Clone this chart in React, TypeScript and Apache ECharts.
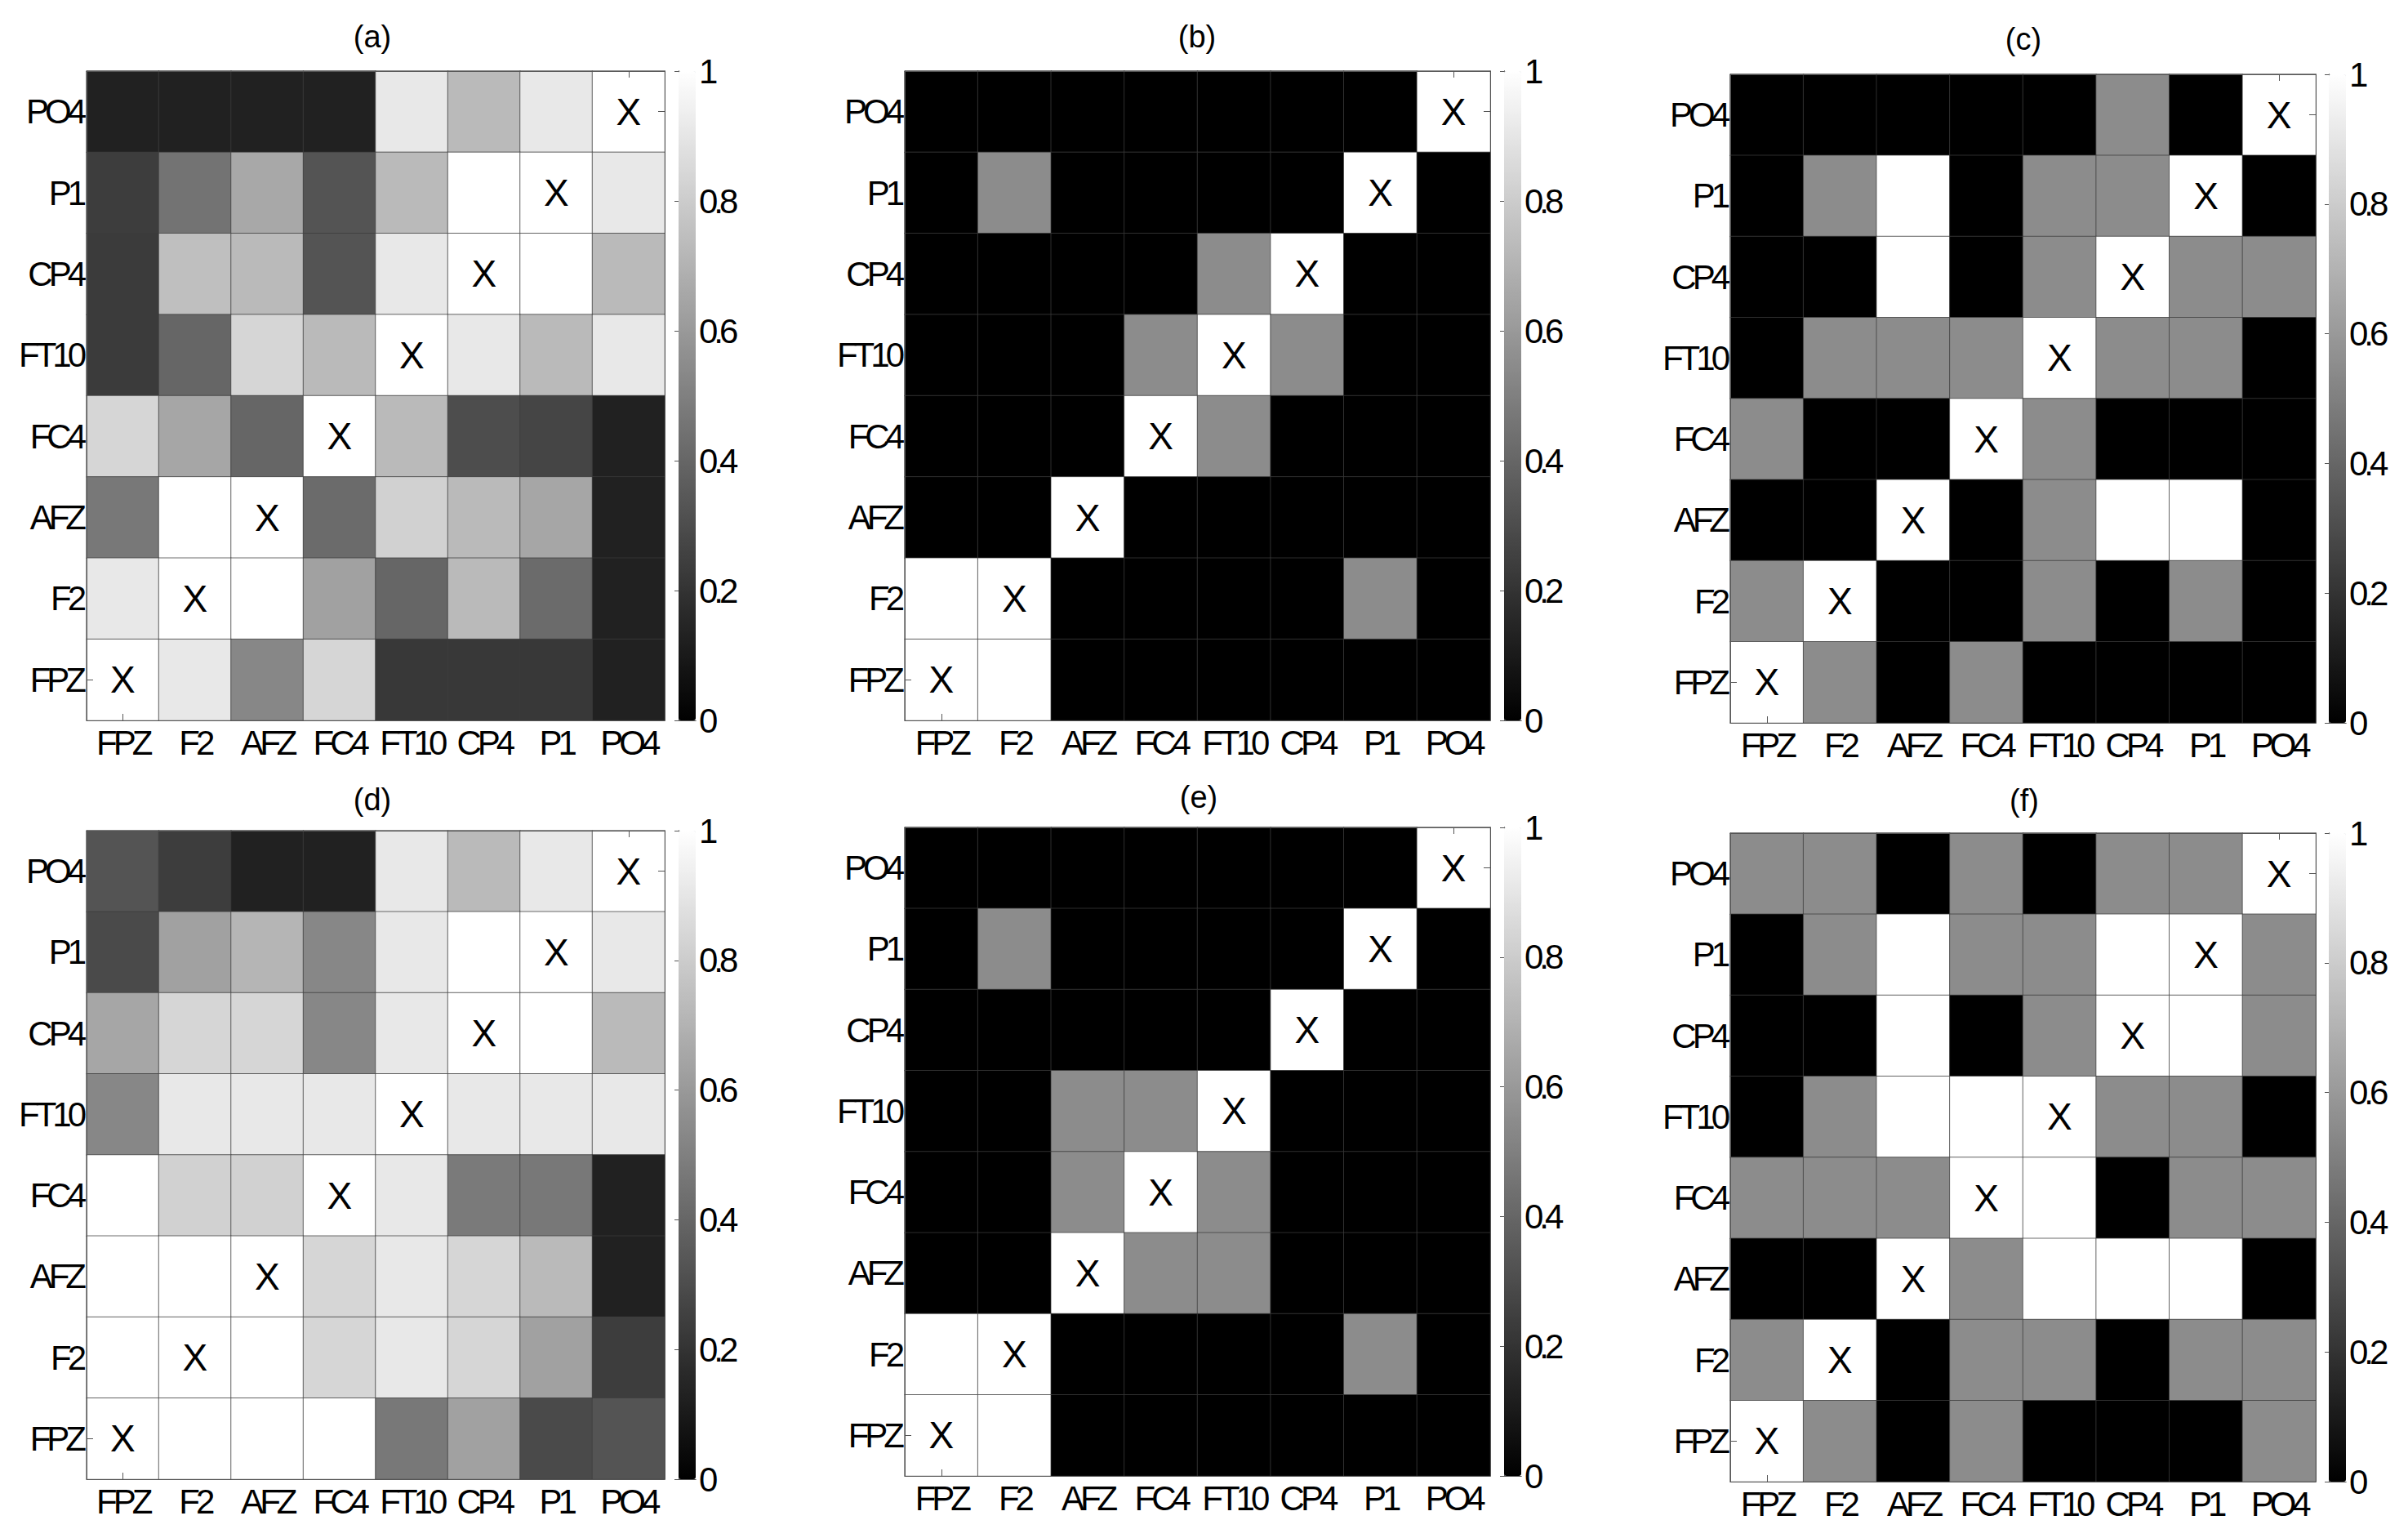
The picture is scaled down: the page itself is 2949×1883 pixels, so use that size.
import React, { useEffect, useRef } from "react";
import * as echarts from "echarts";

// Channel names (x: left→right, y: bottom→top)
const channels = ["FPZ", "F2", "AFZ", "FC4", "FT10", "CP4", "P1", "PO4"];
const panelTitles = ["(a)", "(b)", "(c)", "(d)", "(e)", "(f)"];

// Each matrix: rows listed top (PO4) to bottom (FPZ); columns FPZ..PO4
const panelA = [
  [0.13, 0.13, 0.13, 0.13, 0.91, 0.73, 0.91, 1],
  [0.24, 0.45, 0.66, 0.33, 0.73, 1, 1, 0.91],
  [0.23, 0.75, 0.73, 0.33, 0.91, 1, 1, 0.73],
  [0.23, 0.4, 0.84, 0.73, 1, 0.91, 0.73, 0.91],
  [0.84, 0.65, 0.4, 1, 0.73, 0.3, 0.27, 0.13],
  [0.47, 1, 1, 0.42, 0.82, 0.73, 0.65, 0.13],
  [0.91, 1, 1, 0.63, 0.4, 0.73, 0.42, 0.13],
  [1, 0.91, 0.53, 0.84, 0.22, 0.22, 0.22, 0.13],
];
const panelB = [
  [0, 0, 0, 0, 0, 0, 0, 1],
  [0, 0.55, 0, 0, 0, 0, 1, 0],
  [0, 0, 0, 0, 0.55, 1, 0, 0],
  [0, 0, 0, 0.55, 1, 0.55, 0, 0],
  [0, 0, 0, 1, 0.55, 0, 0, 0],
  [0, 0, 1, 0, 0, 0, 0, 0],
  [1, 1, 0, 0, 0, 0, 0.55, 0],
  [1, 1, 0, 0, 0, 0, 0, 0],
];
const panelC = [
  [0, 0, 0, 0, 0, 0.55, 0, 1],
  [0, 0.55, 1, 0, 0.55, 0.55, 1, 0],
  [0, 0, 1, 0, 0.55, 1, 0.55, 0.55],
  [0, 0.55, 0.55, 0.55, 1, 0.55, 0.55, 0],
  [0.55, 0, 0, 1, 0.55, 0, 0, 0],
  [0, 0, 1, 0, 0.55, 1, 1, 0],
  [0.55, 1, 0, 0, 0.55, 0, 0.55, 0],
  [1, 0.55, 0, 0.55, 0, 0, 0, 0],
];
const panelD = [
  [0.33, 0.24, 0.13, 0.13, 0.91, 0.73, 0.91, 1],
  [0.29, 0.63, 0.71, 0.53, 0.91, 1, 1, 0.91],
  [0.65, 0.84, 0.84, 0.53, 0.91, 1, 1, 0.73],
  [0.53, 0.91, 0.91, 0.91, 1, 0.91, 0.91, 0.91],
  [1, 0.82, 0.82, 1, 0.91, 0.48, 0.47, 0.13],
  [1, 1, 1, 0.84, 0.91, 0.84, 0.73, 0.13],
  [1, 1, 1, 0.84, 0.91, 0.84, 0.63, 0.24],
  [1, 1, 1, 1, 0.47, 0.63, 0.29, 0.33],
];
const panelE = [
  [0, 0, 0, 0, 0, 0, 0, 1],
  [0, 0.55, 0, 0, 0, 0, 1, 0],
  [0, 0, 0, 0, 0, 1, 0, 0],
  [0, 0, 0.55, 0.55, 1, 0, 0, 0],
  [0, 0, 0.55, 1, 0.55, 0, 0, 0],
  [0, 0, 1, 0.55, 0.55, 0, 0, 0],
  [1, 1, 0, 0, 0, 0, 0.55, 0],
  [1, 1, 0, 0, 0, 0, 0, 0],
];
const panelF = [
  [0.55, 0.55, 0, 0.55, 0, 0.55, 0.55, 1],
  [0, 0.55, 1, 0.55, 0.55, 1, 1, 0.55],
  [0, 0, 1, 0, 0.55, 1, 1, 0.55],
  [0, 0.55, 1, 1, 1, 0.55, 0.55, 0],
  [0.55, 0.55, 0.55, 1, 1, 0, 0.55, 0.55],
  [0, 0, 1, 0.55, 1, 1, 1, 0],
  [0.55, 1, 0, 0.55, 0.55, 0, 0.55, 0.55],
  [1, 0.55, 0, 0.55, 0, 0, 0, 0.55],
];
const panels = [panelA, panelB, panelC, panelD, panelE, panelF];

// colour-bar scale
const cbMin = 0;
const cbMax = 1;
const cbInterval = 0.2;

// Layout (pixels)
const layout = [
  { left: 97, top: 87, width: 717, height: 795, cbLeft: 831, tx: 456, ty: 45 },
  { left: 1108, top: 87, width: 717, height: 795, cbLeft: 1842, tx: 1466, ty: 45 },
  { left: 2119, top: 91, width: 717, height: 794, cbLeft: 2852, tx: 2478, ty: 48 },
  { left: 97, top: 1017, width: 717, height: 794, cbLeft: 831, tx: 456, ty: 979 },
  { left: 1108, top: 1013, width: 717, height: 794, cbLeft: 1842, tx: 1468, ty: 976 },
  { left: 2119, top: 1020, width: 717, height: 794, cbLeft: 2852, tx: 2479, ty: 980 },
];
const CB_W = 21;
// "Narrow" in the family name is used as a CSS hook for tight MATLAB-like spacing
const FONT = "'Liberation Sans Narrow', 'Liberation Sans', Arial, sans-serif";
const PLAIN_FONT = "'Liberation Sans', Arial, sans-serif";
const LABEL_SIZE = 42;
const LINE = "#555";

function buildOption() {
  const grid: any[] = [];
  const xAxis: any[] = [];
  const yAxis: any[] = [];
  const series: any[] = [];
  const visualMap: any[] = [];
  const graphic: any[] = [];
  const n = channels.length;

  panels.forEach((m, p) => {
    const L = layout[p];
    const gHeat = grid.length;
    grid.push({ left: L.left, top: L.top, width: L.width, height: L.height, containLabel: false });
    const gCb = grid.length;
    grid.push({ left: L.cbLeft, top: L.top, width: CB_W, height: L.height, containLabel: false });

    const xb = xAxis.length;
    xAxis.push({
      gridIndex: gHeat,
      type: "category",
      data: channels,
      position: "bottom",
      axisLine: { show: true, lineStyle: { color: LINE, width: 1 } },
      axisTick: {
        show: true,
        inside: true,
        alignWithLabel: true,
        length: 8,
        interval: (i: number) => i === 0,
        lineStyle: { color: LINE },
      },
      axisLabel: { interval: 0, margin: 6, color: "#000", fontSize: LABEL_SIZE, fontFamily: FONT },
      splitLine: { show: false },
      z: 5,
    });
    xAxis.push({
      gridIndex: gHeat,
      type: "category",
      data: channels,
      position: "top",
      axisLine: { show: true, lineStyle: { color: LINE, width: 1 } },
      axisTick: {
        show: true,
        inside: true,
        alignWithLabel: true,
        length: 8,
        interval: (i: number) => i === n - 1,
        lineStyle: { color: LINE },
      },
      axisLabel: { show: false },
      splitLine: { show: false },
      z: 5,
    });
    const yl = yAxis.length;
    yAxis.push({
      gridIndex: gHeat,
      type: "category",
      data: channels,
      position: "left",
      axisLine: { show: true, lineStyle: { color: LINE, width: 1 } },
      axisTick: {
        show: true,
        inside: true,
        alignWithLabel: true,
        length: 8,
        interval: (i: number) => i === 0,
        lineStyle: { color: LINE },
      },
      axisLabel: { interval: 0, margin: 5, color: "#000", fontSize: LABEL_SIZE, fontFamily: FONT },
      splitLine: { show: false },
      z: 5,
    });
    yAxis.push({
      gridIndex: gHeat,
      type: "category",
      data: channels,
      position: "right",
      axisLine: { show: true, lineStyle: { color: LINE, width: 1 } },
      axisTick: {
        show: true,
        inside: true,
        alignWithLabel: true,
        length: 8,
        interval: (i: number) => i === n - 1,
        lineStyle: { color: LINE },
      },
      axisLabel: { show: false },
      splitLine: { show: false },
      z: 5,
    });

    // colour bar frame axes
    xAxis.push({
      gridIndex: gCb, type: "value", min: 0, max: 1, position: "bottom",
      axisLine: { show: true, lineStyle: { color: LINE } },
      axisTick: { show: false }, axisLabel: { show: false }, splitLine: { show: false },
    });
    xAxis.push({
      gridIndex: gCb, type: "value", min: 0, max: 1, position: "top",
      axisLine: { show: true, lineStyle: { color: LINE } },
      axisTick: { show: false }, axisLabel: { show: false }, splitLine: { show: false },
    });
    yAxis.push({
      gridIndex: gCb, type: "value", min: cbMin, max: cbMax, interval: cbInterval, position: "right",
      axisLine: { show: true, lineStyle: { color: LINE } },
      axisTick: { show: true, inside: true, length: 5, lineStyle: { color: LINE } },
      axisLabel: { margin: 4, color: "#000", fontSize: LABEL_SIZE, fontFamily: FONT },
      splitLine: { show: false },
    });
    yAxis.push({
      gridIndex: gCb, type: "value", min: cbMin, max: cbMax, interval: cbInterval, position: "left",
      axisLine: { show: true, lineStyle: { color: LINE } },
      axisTick: { show: true, inside: true, length: 5, lineStyle: { color: LINE } },
      axisLabel: { show: false },
      splitLine: { show: false },
    });

    const data: any[] = [];
    m.forEach((row, r) => {
      row.forEach((v, c) => {
        data.push([c, n - 1 - r, v]);
      });
    });
    const sIdx = series.length;
    series.push({
      type: "heatmap",
      xAxisIndex: xb,
      yAxisIndex: yl,
      data,
      itemStyle: { borderColor: "rgba(60,60,60,0.75)", borderWidth: 1 },
      label: {
        show: true,
        formatter: (pp: any) => (pp.value[0] === pp.value[1] ? "X" : ""),
        color: "#000",
        fontSize: 46,
        fontFamily: PLAIN_FONT,
      },
      emphasis: { disabled: true },
      silent: true,
    });

    visualMap.push({
      type: "continuous",
      show: true,
      seriesIndex: sIdx,
      dimension: 2,
      min: cbMin,
      max: cbMax,
      orient: "vertical",
      left: L.cbLeft,
      top: L.top,
      itemWidth: CB_W,
      itemHeight: L.height,
      padding: 0,
      calculable: false,
      hoverLink: false,
      inRange: { color: ["#000000", "#ffffff"] },
    });

    graphic.push({
      type: "text",
      x: L.tx,
      y: L.ty,
      style: {
        text: panelTitles[p],
        fill: "#000",
        font: `38px ${PLAIN_FONT}`,
        textAlign: "center",
        textVerticalAlign: "middle",
      },
    });
  });

  return {
    animation: false,
    backgroundColor: "#ffffff",
    grid,
    xAxis,
    yAxis,
    series,
    visualMap,
    graphic,
  };
}

export default function App() {
  const ref = useRef<HTMLDivElement>(null);
  useEffect(() => {
    document.body.style.margin = "0";
    const st = document.createElement("style");
    st.textContent = 'svg text[style*="Narrow"] { letter-spacing: -5px; }';
    document.head.appendChild(st);
    if (!ref.current) return;
    const chart = echarts.init(ref.current, undefined, { renderer: "svg" });
    chart.setOption(buildOption() as any);
    return () => {
      chart.dispose();
      st.remove();
    };
  }, []);
  return <div ref={ref} style={{ width: 2949, height: 1883 }} />;
}
